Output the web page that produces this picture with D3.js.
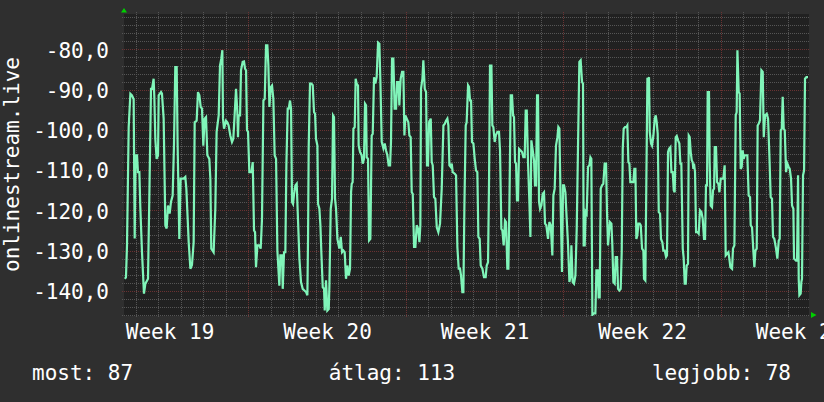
<!DOCTYPE html>
<html>
<head>
<meta charset="utf-8">
<title>onlinestream.live</title>
<style>
  body { margin: 0; background: #2f2f2f; }
  svg { display: block; }
  text { font-family: "DejaVu Sans Mono", monospace; font-size: 21px; fill: #ffffff; }
  .grid-minor { stroke: #555555; stroke-dasharray: 1,1; shape-rendering: crispEdges; }
  .grid-major { stroke: #6a3232; stroke-dasharray: 1,1; shape-rendering: crispEdges; }
</style>
<script src="https://d3js.org/d3.v7.min.js"></script>
</head>
<body>
<script>
// hours since the left edge of the graph, and the value at that time
var hours = [
  1.0, 2.1, 3.2, 5.0, 6.8, 8.5, 10.3, 11.4, 12.4, 13.9, 14.9, 16.4, 17.4, 19.2, 21.3, 22.8, 25.6, 27.0, 28.8, 29.9,
  31.6, 32.4, 33.4, 34.8, 36.3, 37.0, 39.5, 40.5, 42.3, 44.1, 45.5, 46.9, 48.7, 50.1, 51.9, 53.3, 54.7, 56.2, 57.2, 59.0,
  60.4, 63.6, 65.4, 66.5, 69.0, 70.8, 72.5, 74.3, 75.4, 77.5, 78.9, 80.4, 81.8, 83.2, 84.6, 86.0, 87.5, 88.9, 91.0, 92.1,
  93.1, 95.6, 97.4, 98.8, 101.0, 102.4, 103.8, 104.9, 105.6, 106.7, 108.8, 110.2, 111.6, 113.4, 115.2, 116.6, 117.3, 119.5,
  120.9, 121.6, 122.3, 123.8, 124.8, 126.6, 128.0, 129.1, 130.2, 131.2, 132.3, 133.7, 135.9, 137.3, 138.7, 139.8, 140.8,
  142.3, 144.4, 145.8, 147.2, 148.7, 150.1, 151.5, 152.9, 154.0, 155.1, 156.5, 157.9, 159.3, 160.7, 162.2, 163.6, 165.7,
  166.8, 168.6, 169.3, 170.7, 172.1, 173.2, 174.6, 175.7, 177.1, 178.2, 179.2, 180.3, 181.4, 182.8, 184.2, 185.3, 187.1,
  188.8, 190.6, 192.4, 194.2, 195.6, 196.3, 197.0, 198.4, 199.9, 201.3, 202.7, 203.8, 204.8, 206.3, 207.0, 208.4, 209.5,
  210.5, 212.0, 213.4, 214.1, 215.5, 216.9, 218.4, 219.1, 220.5, 221.9, 223.0, 224.0, 225.1, 226.2, 227.6, 229.7, 231.2,
  232.6, 234.0, 235.4, 236.8, 238.3, 239.7, 241.1, 242.2, 242.9, 243.9, 244.7, 246.1, 247.1, 248.2, 249.6, 250.3, 251.8,
  253.5, 254.6, 256.0, 257.1, 258.2, 258.9, 260.3, 261.4, 262.8, 264.2, 265.3, 266.7, 268.1, 269.5, 271.0, 272.4, 273.5,
  274.9, 276.7, 278.1, 279.5, 280.9, 282.3, 283.8, 284.8, 285.9, 287.3, 288.7, 290.2, 291.2, 292.7, 293.7, 295.1, 296.6,
  298.0, 299.1, 300.1, 301.6, 303.3, 304.4, 305.8, 306.9, 308.0, 309.4, 310.8, 312.2, 313.6, 315.1, 316.1, 316.8, 318.3,
  319.3, 320.8, 322.2, 323.2, 324.3, 325.4, 327.2, 328.2, 329.3, 330.7, 332.1, 333.6, 335.3, 337.1, 338.9, 340.7, 342.1,
  343.5, 344.9, 346.0, 347.1, 348.5, 349.6, 350.6, 352.8, 354.2, 355.6, 357.0, 358.4, 359.5, 360.9, 362.0, 363.1, 364.5,
  365.5, 367.0, 368.0, 369.1, 370.2, 371.2, 372.7, 374.1, 375.5, 376.9, 378.0, 379.4, 380.5, 382.3, 384.0, 385.8, 386.9,
  388.3, 389.4, 390.4, 391.9, 392.9, 394.0, 395.4, 396.5, 398.3, 400.0, 401.1, 402.5, 403.6, 405.0, 406.4, 407.5, 408.9,
  410.0, 411.1, 412.5, 413.9, 415.0, 416.0, 417.1, 418.2, 419.2, 420.3, 421.4, 423.1, 424.6, 426.0, 427.4, 428.5, 429.6,
  431.0, 432.4, 433.5, 434.5, 436.0, 437.4, 438.4, 439.5, 440.6, 441.6, 442.7, 443.8, 445.2, 446.6, 448.0, 449.1, 450.5,
  452.3, 453.7, 455.2, 456.9, 458.0, 459.4, 460.8, 462.3, 463.3, 464.4, 465.8, 467.2, 468.3, 469.4, 470.8, 472.2, 473.6,
  475.1, 476.5, 477.2, 478.6, 480.0, 481.5, 482.9, 484.3, 485.7, 487.1, 488.6, 489.6, 490.3, 491.4, 492.5, 493.5, 495.0,
  496.4, 497.5, 498.5, 499.6, 501.0, 502.8, 503.9, 505.3, 506.3, 507.4, 508.5, 509.9, 511.3, 512.7, 514.2, 515.2, 516.3,
  517.4, 518.4, 519.9, 520.9, 522.0, 523.4, 524.5, 525.9, 527.0, 528.4, 529.8, 530.9, 532.0, 533.0, 534.4, 535.9, 536.9,
  538.0, 539.1, 540.1, 541.9, 543.3, 544.4, 545.5, 546.5, 547.6, 548.7, 550.1, 551.2, 552.6, 554.0, 554.7, 556.1, 557.2,
  558.3, 559.3, 560.0, 560.8, 562.2, 563.2, 564.7, 566.1, 567.2, 568.2, 569.3, 570.4, 571.8, 572.8, 574.3, 575.3, 576.8,
  578.2, 579.2, 580.3, 581.4, 582.8, 583.9, 585.3, 586.4, 587.4, 588.5, 589.6, 591.0, 592.4, 593.5, 594.5, 596.0, 597.0,
  598.1, 599.2, 600.2, 601.6, 602.4, 603.4, 604.5, 605.6, 606.6, 607.3, 608.0, 609.1, 610.2, 611.6, 613.0, 614.4, 615.9,
  617.3, 618.7, 619.8, 620.8, 621.9, 622.6, 624.0, 624.7, 625.8, 627.2, 628.3, 629.4, 630.1, 631.5, 632.6, 634.0, 635.1,
  636.5, 637.9, 639.3, 640.7, 641.8, 643.2, 644.7, 645.7, 646.8, 648.6, 649.6, 651.1, 652.5, 653.5, 654.3, 655.7, 656.7,
  657.8, 658.9, 659.9, 661.0, 662.1, 664.9, 666.3, 667.8, 668.5, 669.9, 671.3, 672.4, 673.5, 674.9, 675.9, 677.0, 678.4,
  679.9, 681.3, 682.4, 683.8, 685.6, 687.0, 688.4, 689.8, 691.2, 692.3, 693.7, 695.5, 696.9, 698.4, 699.4, 700.5, 701.6,
  702.6, 703.7, 704.8, 706.2, 707.6, 709.0, 710.1, 711.5, 712.6, 714.0, 714.7, 716.8, 717.9, 719.0, 719.7, 720.4, 721.8,
  722.5, 723.2, 724.3, 725.4, 726.4, 727.9, 729.6
];
var values = [
  -137, -136.6, -128.7, -99.3, -91.0, -91.4, -92.4, -127, -106.3, -106.3, -110.5, -110.5, -119.2, -130.4, -140.7, -138.2, -137, -117, -89.8, -89.8,
  -87.3, -92.2, -102.2, -107.2, -106.3, -91.4, -90.6, -91.0, -97.2, -123.7, -124.5, -118.8, -120.8, -117.9, -116.3, -103.9, -84.4, -84.4, -103.9, -127.1,
  -112.1, -112.1, -111.7, -114.6, -127.9, -134.5, -133.6, -127.9, -98.1, -97.7, -90.6, -91.4, -94.3, -94.7, -103.9, -97.2, -96.8, -106.3, -107.2, -112.1,
  -129.5, -130.4, -119.6, -100.5, -96.4, -84, -82.3, -80.2, -97.2, -99.7, -97.7, -98.1, -98.9, -101.4, -103, -102.2, -99.3, -89.8,
  -95.6, -101.8, -96.4, -96.4, -85.2, -83.1, -83.0, -84.8, -85.2, -100.1, -100.5, -110.5, -110.5, -108, -125, -125.4, -134.1,
  -128.7, -128.7, -129.5, -122.1, -92.7, -92.3, -79, -79, -84, -94.3, -89.4, -89.0, -92.3, -106.3, -107.2, -130, -138.7,
  -131.2, -131.2, -139.5, -130.4, -130.4, -108.8, -94.7, -94.7, -92.7, -94.7, -117.9, -118.4, -115.9, -113.8, -113.4, -120.4, -132,
  -137.8, -139.5, -139.9, -140.3, -141.1, -127.1, -104.3, -88.5, -88.5, -88.9, -95.6, -96.0, -102.2, -103.9, -118.4, -119.6, -123.7,
  -130.4, -139.1, -139.5, -144.9, -137.4, -144.9, -144.5, -138.7, -119.6, -117.1, -96.4, -96.8, -117.1, -119.6, -127.1, -129.5, -126.6,
  -130.4, -130, -130.4, -137, -133.7, -136.2, -134.5, -115.5, -113.4, -113.0, -99.7, -99.3, -87.3, -88.5, -89.0, -103.9, -105.5,
  -106.3, -108.4, -107.2, -93.5, -93.9, -106.8, -107.2, -127.5, -127.1, -101.4, -101.0, -86.9, -88.5, -86.9, -78.3, -78.6, -88.1,
  -103, -104.6, -103.4, -105.1, -106.3, -108.8, -108.8, -103, -82.3, -82.3, -94.7, -94.7, -88.1, -88.1, -93.9, -87.3, -85.6,
  -85.6, -101.4, -96.4, -97.2, -98.1, -101.4, -101.8, -115.5, -115.9, -129.1, -129.1, -123.7, -124.5, -127.9, -123.7, -89.8, -87.3,
  -82.7, -89.8, -90.6, -108.8, -108.8, -98.1, -97.2, -107.9, -108.8, -116.7, -117.1, -124.2, -125.4, -123.3, -114.6, -98.9, -98.5,
  -97.7, -97.2, -98.9, -108.8, -109.2, -108.4, -110.5, -110.9, -111.3, -129.1, -134.5, -134.5, -136.2, -140.3, -140.3, -118.8, -98.9,
  -98.1, -88.9, -89.3, -92.7, -92.7, -103, -103.4, -107.2, -110.1, -110.5, -126.6, -127.1, -133.7, -134.5, -136.6, -136.6, -133.7,
  -132.9, -112.1, -84, -84, -98.9, -99.3, -103, -101.4, -100.5, -100.5, -105.1, -124.6, -125, -128.7, -122.5, -122.9, -134.5,
  -134.5, -118.8, -91.4, -91.4, -96.4, -96.8, -108, -108.4, -117.5, -117.5, -104.7, -105.1, -105.5, -106.8, -106.8, -95.2, -95.2,
  -108.4, -117.9, -126.6, -102.6, -105.1, -107.6, -113.8, -113.8, -91.4, -91.4, -117.9, -119.6, -118.8, -115.9, -115.5, -123.3, -123.7,
  -127.1, -122.9, -123.7, -131.2, -116.3, -114.6, -103.9, -101.8, -99.3, -99.7, -118.8, -135.3, -113.8, -113.8, -115.5, -122.1, -128.3,
  -137.8, -136.2, -128.7, -137.8, -138.2, -136.2, -124.6, -103.9, -83.1, -82.7, -88.1, -88.5, -128.7, -128.7, -120.4, -120.8, -109.2,
  -108.8, -106.8, -107.2, -146, -145.6, -145.6, -134.9, -134.9, -141.6, -141.6, -114.6, -113.8, -113.4, -108.4, -108.4, -120.4, -128.7,
  -125.4, -122.9, -123.3, -128.7, -137.8, -138.2, -131.6, -131.6, -139.5, -139.9, -139.5, -130.4, -104.7, -99.7, -99.3, -99.3, -98.9,
  -108, -108.4, -113, -113, -113, -109.7, -109.7, -127.1, -126.2, -123.3, -123.3, -123.7, -129.5, -130, -137, -137.4, -112.1,
  -87.3, -87.3, -86.9, -100.5, -103.4, -103.9, -101.4, -97.2, -96.4, -98.1, -101, -120.4, -120.8, -127.1, -128, -130, -130,
  -131.6, -131.2, -105.5, -104.7, -104.3, -110.5, -110.5, -115, -115.5, -101.8, -101.5, -102.6, -103.4, -108.4, -108.4, -129.5, -131.9,
  -138.2, -138.2, -133.7, -133.3, -101.4, -101.8, -105.5, -107.6, -108, -109.7, -108.4, -110.5, -125.4, -125.4, -125.8, -120, -120.4,
  -122.1, -127.1, -127.1, -113.8, -113.8, -90.6, -90.6, -108, -118.8, -119.2, -115, -114.6, -104.3, -104.3, -113, -113.4, -115.5,
  -112.1, -112.1, -112.1, -108.8, -131.2, -130.8, -130.4, -132, -134.1, -134.5, -129.5, -128.7, -96.4, -95.6, -80.2, -90.6, -91,
  -109.7, -109.2, -105.1, -107.2, -106.3, -106.3, -116.3, -116.7, -123.7, -124.2, -130, -134.1, -130, -129.5, -98.9, -98.5, -97.6,
  -85.2, -85.6, -101.8, -96.4, -96, -97.2, -106.3, -116.7, -117.1, -126.6, -127.1, -129.5, -132, -127.5, -127.1, -100.1, -99.7,
  -91.8, -99.7, -100.1, -110.5, -108.4, -109.2, -109.7, -112.1, -118.8, -119.6, -132, -132.5, -132.5, -111.3, -137, -141.1, -140.7,
  -137.8, -137, -111.3, -110.1, -87.3, -86.9, -86.9
];

var startTime = new Date(Date.UTC(2024, 4, 7, 11, 24));   // left edge of the graph
var spanHours = 729.6;                                      // width of the graph in hours
var yDomain = [-146, -71.2];
var yTicks = [-80, -90, -100, -110, -120, -130, -140];
var yTitle = "onlinestream.live";
var weekFormat = "Week %V";
var legendLabels = ["most", "átlag", "legjobb"];
var legendValues = [87, 113, 78];

var W = 824, H = 402;
var plot = {left: 124, right: 808, top: 14, bottom: 315};

var data = hours.map(function (h, i) {
  return {t: new Date(startTime.getTime() + h * 3600e3), v: values[i]};
});
var endTime = new Date(startTime.getTime() + spanHours * 3600e3);

var x = d3.scaleUtc().domain([startTime, endTime]).range([plot.left, plot.right]);
var y = d3.scaleLinear().domain(yDomain).range([plot.bottom, plot.top]);

var fmt = d3.formatLocale({decimal: ",", thousands: ".", grouping: [3], currency: ["", ""], minus: "-"}).format(".1f");

var svg = d3.select("body").append("svg")
  .attr("width", W)
  .attr("height", H);

svg.append("rect").attr("width", W).attr("height", H).attr("fill", "#2f2f2f");
svg.append("rect")
  .attr("x", plot.left).attr("y", plot.top)
  .attr("width", plot.right - plot.left + 1).attr("height", plot.bottom - plot.top + 1)
  .attr("fill", "#212121");

// grid
var grid = svg.append("g");
var days = d3.utcDay.range(startTime, endTime);
var mondays = d3.utcMonday.range(startTime, endTime);
var isMonday = function (d) { return d.getUTCDay() === 1; };

grid.selectAll(".vminor")
  .data(days.filter(function (d) { return !isMonday(d); }))
  .enter().append("line")
  .attr("class", "grid-minor")
  .attr("x1", function (d) { return Math.round(x(d)) + 0.5; })
  .attr("x2", function (d) { return Math.round(x(d)) + 0.5; })
  .attr("y1", plot.top - 2).attr("y2", plot.bottom + 2);

var yMinor = d3.range(yDomain[0], yDomain[1], 2).filter(function (v) { return v % 10 !== 0; });
grid.selectAll(".hminor")
  .data(yMinor)
  .enter().append("line")
  .attr("class", "grid-minor")
  .attr("x1", plot.left - 2).attr("x2", plot.right + 2)
  .attr("y1", function (d) { return Math.round(y(d)) + 0.5; })
  .attr("y2", function (d) { return Math.round(y(d)) + 0.5; });

grid.selectAll(".vmajor")
  .data(mondays)
  .enter().append("line")
  .attr("class", "grid-major")
  .attr("x1", function (d) { return Math.round(x(d)) + 0.5; })
  .attr("x2", function (d) { return Math.round(x(d)) + 0.5; })
  .attr("y1", plot.top - 2).attr("y2", plot.bottom + 2);

grid.selectAll(".hmajor")
  .data(yTicks)
  .enter().append("line")
  .attr("class", "grid-major")
  .attr("x1", plot.left - 2).attr("x2", plot.right + 2)
  .attr("y1", function (d) { return Math.round(y(d)) + 0.5; })
  .attr("y2", function (d) { return Math.round(y(d)) + 0.5; });

// data line
svg.append("clipPath").attr("id", "clip")
  .append("rect")
  .attr("x", plot.left).attr("y", plot.top)
  .attr("width", plot.right - plot.left).attr("height", plot.bottom - plot.top + 1);

var line = d3.line()
  .x(function (d) { return x(d.t); })
  .y(function (d) { return y(d.v); });

svg.append("path")
  .datum(data)
  .attr("clip-path", "url(#clip)")
  .attr("fill", "none")
  .attr("stroke", "#80f5b9")
  .attr("stroke-width", 2.2)
  .attr("d", line);

// axes
var yAxis = svg.append("g")
  .attr("transform", "translate(" + plot.left + ",0)")
  .call(d3.axisLeft(y).tickValues(yTicks).tickFormat(fmt).tickSize(0).tickPadding(15));
yAxis.select(".domain").remove();
yAxis.attr("font-family", null).attr("font-size", null);
yAxis.selectAll("text")
  .attr("dy", "0.37em")
  .attr("fill", "#fff");

// week labels centred in the middle of each week
var weekCentres = d3.utcMonday.range(d3.utcMonday.floor(startTime), endTime).map(function (d) {
  return new Date(d.getTime() + 3.5 * 864e5);
});
var xAxis = svg.append("g")
  .attr("transform", "translate(0," + plot.bottom + ")")
  .call(d3.axisBottom(x).tickValues(weekCentres).tickFormat(d3.utcFormat(weekFormat)).tickSize(0));
xAxis.select(".domain").remove();
xAxis.attr("font-family", null).attr("font-size", null);
xAxis.selectAll("text")
  .attr("y", 24)
  .attr("dy", 0)
  .attr("fill", "#fff");

// y title
svg.append("text")
  .attr("transform", "translate(19," + ((plot.top + plot.bottom) / 2) + ") rotate(-90)")
  .attr("text-anchor", "middle")
  .text(yTitle);

// arrows at the axis ends
svg.append("path")
  .attr("d", "M" + (plot.left - 3) + "," + (plot.top - 1.5) + "l3,-4.5l3,4.5z")
  .attr("fill", "#00d000");
svg.append("path")
  .attr("d", "M" + (plot.right + 3) + "," + (plot.bottom - 3) + "l5.5,3l-5.5,3z")
  .attr("fill", "#00d000");

// legend
var anchors = ["start", "middle", "end"];
var legendX = [32, 392, 791];
svg.selectAll(".legend")
  .data(legendLabels)
  .enter().append("text")
  .attr("class", "legend")
  .attr("x", function (d, i) { return legendX[i]; })
  .attr("y", 380)
  .attr("text-anchor", function (d, i) { return anchors[i]; })
  .text(function (d, i) { return d + ": " + legendValues[i]; });
</script>
</body>
</html>
